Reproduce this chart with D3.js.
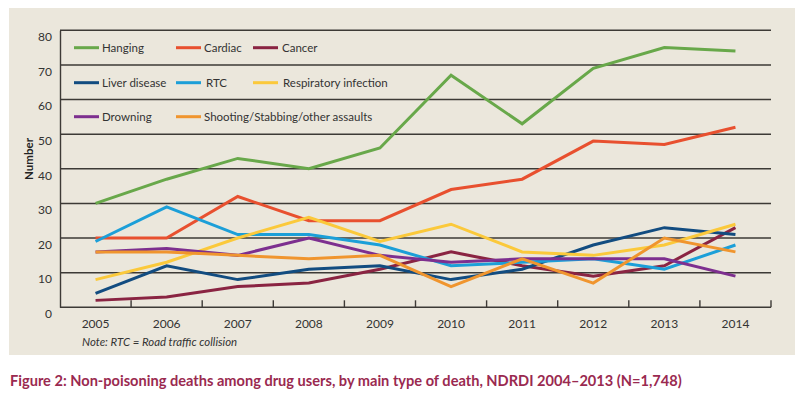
<!DOCTYPE html>
<html><head><meta charset="utf-8">
<script src="https://cdn.jsdelivr.net/npm/d3@7/dist/d3.min.js"></script>
<style>
html,body{margin:0;padding:0;background:#fff;}
svg{display:block;font-family:Lato, "Open Sans", sans-serif;}
</style></head>
<body>
<svg id="chart" width="800" height="396"></svg>
<script>
const years = ["2005","2006","2007","2008","2009","2010","2011","2012","2013","2014"];
const hanging     = [30,37,43,40,46,67,53,69,75,74];
const cardiac     = [20,20,32,25,25,34,37,48,47,52];
const cancer      = [2,3,6,7,11,16,12,9,12,23];
const liver       = [4,12,8,11,12,8,11,18,23,21];
const rtc         = [19,29,21,21,18,12,13,14,11,18];
const respiratory = [8,13,20,26,19,24,16,15,18,24];
const drowning    = [16,17,15,20,15,13,14,14,14,9];
const shooting    = [16,16,15,14,15,6,14,7,20,16];
const yTicks = [0,10,20,30,40,50,60,70,80];
const seriesNames = ["Hanging","Cardiac","Cancer","Liver disease","RTC","Respiratory infection","Drowning","Shooting/Stabbing/other assaults"];
const seriesColors = ["#68a84a","#e8502f","#8a2442","#124c80","#1c9fd8","#fbc93b","#7d2f8f","#f0952e"];
const seriesValues = [hanging,cardiac,cancer,liver,rtc,respiratory,drowning,shooting];
const caption = "Figure 2: Non-poisoning deaths among drug users, by main type of death, NDRDI 2004\u20132013 (N=1,748)";
const note = "Note: RTC = Road traffic collision";

(function(){
const svg = d3.select("#chart");
svg.append("rect").attr("x",9).attr("y",8).attr("width",786).attr("height",347).attr("fill","#ebe7dc");

const pL = 60, pR = 771, pT = 30.3, pB = 307.3;
const x = d3.scaleBand().domain(years).range([pL,pR]);
const y = d3.scaleLinear().domain([0,80]).range([pB,pT]);

// gridlines
svg.append("g").selectAll("line").data(yTicks.filter(d=>d>0)).join("line")
  .attr("x1",pL).attr("x2",pR).attr("y1",d=>y(d)).attr("y2",d=>y(d))
  .attr("stroke","#3d3a36").attr("stroke-width",1.4);

// y axis
const yAxis = svg.append("g").attr("transform",`translate(${pL},0)`)
  .call(d3.axisLeft(y).tickValues(yTicks).tickSize(0).tickPadding(8));
yAxis.select(".domain").attr("stroke","#3d3a36").attr("stroke-width",1.4);
yAxis.selectAll("text").attr("font-size",12).attr("fill","#333").attr("font-family","Lato, sans-serif").attr("dy","0.85em");

// x axis with upward ticks at band boundaries
const xAxis = svg.append("g").attr("transform",`translate(0,${pB})`)
  .call(d3.axisBottom(x).tickSize(0).tickPadding(12));
xAxis.select(".domain").remove();
xAxis.selectAll("text").attr("font-size",12).attr("fill","#333").attr("font-family","Lato, sans-serif");
svg.append("line").attr("x1",pL).attr("x2",pR).attr("y1",pB).attr("y2",pB)
  .attr("stroke","#3d3a36").attr("stroke-width",1.4);
const bounds = years.map(d=>x(d)+x.bandwidth());
svg.append("g").selectAll("line").data(bounds).join("line")
  .attr("x1",d=>d).attr("x2",d=>d).attr("y1",pB).attr("y2",pB-7)
  .attr("stroke","#3d3a36").attr("stroke-width",1.4);

// y title
svg.append("text").attr("transform",`translate(33,159) rotate(-90)`)
  .attr("text-anchor","middle").attr("font-size",11.5).attr("font-weight","bold")
  .attr("fill","#222").text("Number");

// lines
const line = d3.line().x((d,i)=>x(years[i])+x.bandwidth()/2).y(d=>y(d));
svg.append("g").selectAll("path").data(seriesValues).join("path")
  .attr("d",d=>line(d)).attr("fill","none")
  .attr("stroke",(d,i)=>seriesColors[i]).attr("stroke-width",3)
  .attr("stroke-linejoin","miter");

// legend
const legPos = [[74,47.7],[176,47.7],[253,47.7],[74,82.7],[176,82.7],[253,82.7],[74,116.7],[176,116.7]];
const legTextX = [102,204,282,102,206,283,102,204];
const lg = svg.append("g");
seriesNames.forEach((n,i)=>{
  lg.append("line").attr("x1",legPos[i][0]).attr("x2",legPos[i][0]+25)
    .attr("y1",legPos[i][1]).attr("y2",legPos[i][1])
    .attr("stroke",seriesColors[i]).attr("stroke-width",3);
  lg.append("text").attr("x",legTextX[i]).attr("y",legPos[i][1]).attr("dy","0.35em")
    .attr("font-size",11.5).attr("fill","#333").text(n);
});

// note
svg.append("text").attr("x",82).attr("y",346).attr("font-size",11.4).attr("font-style","italic")
  .attr("fill","#333").text(note);

// caption
svg.append("text").attr("x",10).attr("y",386).attr("font-size",14.6).attr("font-weight","bold")
  .attr("fill","#9a2a50").text(caption);
})();
</script>
</body></html>
